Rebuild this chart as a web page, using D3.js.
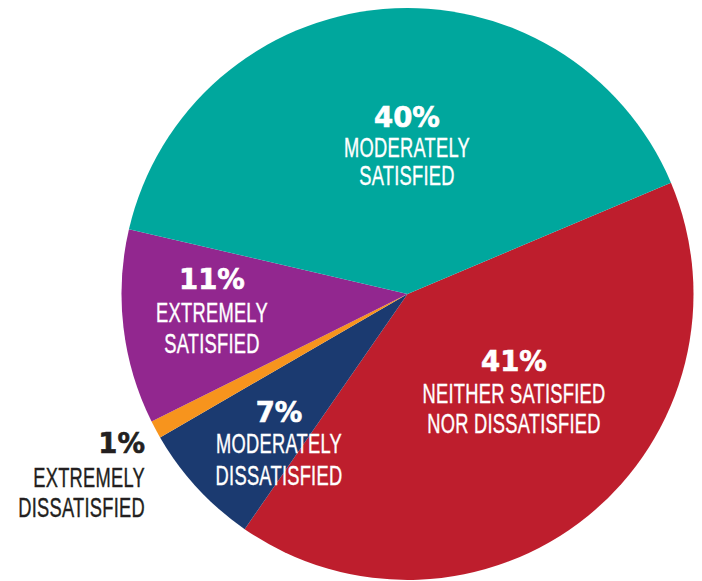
<!DOCTYPE html>
<html>
<head>
<meta charset="utf-8">
<script src="https://cdn.jsdelivr.net/npm/d3@7"></script>
<style>
  html, body { margin: 0; padding: 0; background: #fff; }
  svg { display: block; }
</style>
</head>
<body>
<svg id="chart" width="702" height="581"></svg>
<script>
// Data (in drawing order, clockwise)
const categories = ["NEITHER SATISFIED NOR DISSATISFIED", "MODERATELY DISSATISFIED", "EXTREMELY DISSATISFIED", "EXTREMELY SATISFIED", "MODERATELY SATISFIED"];
const values = [41, 7, 1, 11, 40];
const percentLabels = ["41%", "7%", "1%", "11%", "40%"];
const labelLines = [
  ["NEITHER SATISFIED", "NOR DISSATISFIED"],
  ["MODERATELY", "DISSATISFIED"],
  ["EXTREMELY", "DISSATISFIED"],
  ["EXTREMELY", "SATISFIED"],
  ["MODERATELY", "SATISFIED"]
];
const colors = ["#BE1E2D", "#1B3A70", "#F7941D", "#92278F", "#00A79D"];

// Layout
const W = 702, H = 581;
const cx = 407.5, cy = 294, R = 286;
const startDeg = 67.1;

// Label anchors (layout, not data)
const labelLayout = [
  { x: 514, y: 371, anchor: "middle", color: "#fff", dy: [32, 62] },
  { x: 279, y: 422, anchor: "middle", color: "#fff", dy: [31, 63] },
  { x: 145, y: 453, anchor: "end", color: "#231F20", dy: [34, 64] },
  { x: 212, y: 289, anchor: "middle", color: "#fff", dy: [33, 64] },
  { x: 407, y: 127, anchor: "middle", color: "#fff", dy: [30, 58] }
];

const svg = d3.select("#chart");
const g = svg.append("g").attr("transform", `translate(${cx},${cy})`);

const start = startDeg * Math.PI / 180;
const pie = d3.pie().sort(null).value(d => d).startAngle(start).endAngle(start + 2 * Math.PI);
const arc = d3.arc().innerRadius(0).outerRadius(R);

g.selectAll("path.slice")
  .data(pie(values))
  .join("path")
  .attr("class", "slice")
  .attr("d", arc)
  .attr("fill", (d, i) => colors[i]);

const sx = 0.665;
const labels = svg.append("g");
values.forEach((v, i) => {
  const L = labelLayout[i];
  labels.append("text")
    .attr("transform", `translate(${L.x},${L.y})`)
    .attr("text-anchor", L.anchor)
    .attr("fill", L.color)
    .attr("stroke", L.color)
    .attr("stroke-width", 0.6)
    .style("font-family", "'DejaVu Sans', sans-serif")
    .style("font-weight", "bold")
    .style("font-size", "27.5px")
    .text(percentLabels[i]);
  labelLines[i].forEach((line, j) => {
    labels.append("text")
      .attr("transform", `translate(${L.x},${L.y + L.dy[j]}) scale(${sx},1)`)
      .attr("text-anchor", L.anchor)
      .attr("fill", L.color)
      .attr("stroke", L.color)
      .attr("stroke-width", 0.4)
      .style("font-family", "'Liberation Sans', 'Arimo', sans-serif")
      .style("font-size", "27.5px")
      .style("letter-spacing", "0.4px")
      .text(line);
  });
});
</script>
</body>
</html>
